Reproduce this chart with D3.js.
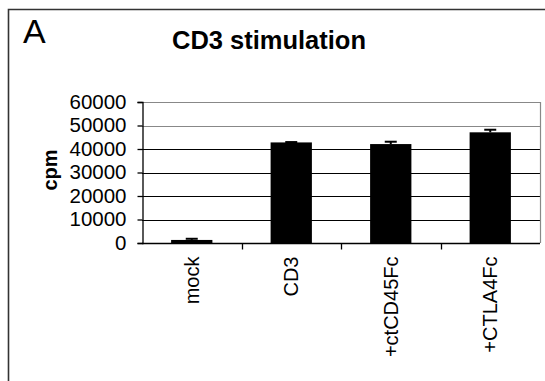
<!DOCTYPE html>
<html><head><meta charset="utf-8">
<script src="https://cdn.jsdelivr.net/npm/d3@7"></script>
<style>body{margin:0;background:#fff}svg{display:block;font-family:Arial,"Liberation Sans",sans-serif}</style>
</head><body><svg id="c" width="545" height="381"></svg>
<script>
const categories = ["mock","CD3","+ctCD45Fc","+CTLA4Fc"];
const values = [1300, 42800, 42100, 47100];
const errors = [500, 150, 1000, 1100];
const yTicks = [0,10000,20000,30000,40000,50000,60000];
const title = "CD3 stimulation";
const yLabel = "cpm";
const panel = "A";

(function(){
const svg = d3.select("#c");
const pL = 142, pR = 540, pT = 102, pB = 243;

svg.append("path").attr("d","M8.5,390V9.5H560").attr("fill","none").attr("stroke","#333").attr("stroke-width",1.6);

svg.append("text").attr("x",23).attr("y",43).attr("font-size",34).text(panel);
svg.append("text").attr("x",269).attr("y",49).attr("text-anchor","middle").attr("font-size",25).attr("font-weight","bold")
  .attr("textLength",194).attr("lengthAdjust","spacingAndGlyphs").text(title);

const x = d3.scaleBand().domain(categories).range([pL,pR]).paddingInner(0.585).paddingOuter(0.2925);
const xb = d3.scaleBand().domain(categories).range([pL,pR]);
const y = d3.scaleLinear().domain([0,60000]).range([pB,pT]);

svg.append("g").selectAll("line").data(yTicks.filter(d=>d>0)).join("line")
  .attr("x1",pL).attr("x2",pR).attr("y1",d=>Math.round(y(d))+0.5).attr("y2",d=>Math.round(y(d))+0.5)
  .attr("stroke",d=>d>=50000?"#888":"#000").attr("stroke-width",1.2);
svg.append("line").attr("x1",pR+0.5).attr("x2",pR+0.5).attr("y1",pT).attr("y2",pB).attr("stroke","#888").attr("stroke-width",1.2);

svg.append("g").selectAll("rect").data(values).join("rect")
  .attr("x",(d,i)=>x(categories[i])).attr("width",x.bandwidth())
  .attr("y",d=>y(d)).attr("height",d=>pB-y(d)).attr("fill","#000");

const eg = svg.append("g").attr("stroke","#000").attr("stroke-width",2);
values.forEach((v,i)=>{
  const cx = x(categories[i]) + x.bandwidth()/2;
  eg.append("line").attr("x1",cx).attr("x2",cx).attr("y1",y(v)).attr("y2",y(v+errors[i]));
  eg.append("line").attr("x1",cx-6).attr("x2",cx+6).attr("y1",y(v+errors[i])).attr("y2",y(v+errors[i]));
});

const ya = svg.append("g").attr("transform",`translate(${pL+0.5},0)`)
  .call(d3.axisLeft(y).tickValues(yTicks).tickSize(5).tickPadding(11).tickFormat(d3.format("d")));
ya.select(".domain").attr("stroke","#000").attr("stroke-width",1.3);
ya.selectAll(".tick line").attr("stroke","#000").attr("stroke-width",1.3);
ya.selectAll("text").attr("font-size",20).attr("font-family","Arial, 'Liberation Sans', sans-serif").attr("fill","#000")
  .attr("textLength",57).attr("lengthAdjust","spacingAndGlyphs")
  .attr("textLength",d=>String(d).length*11.4);

const xa = svg.append("g").attr("transform",`translate(0,${pB+0.5})`);
xa.append("line").attr("x1",pL).attr("x2",pR).attr("stroke","#000").attr("stroke-width",1.3);
xa.selectAll("line.t").data(categories.slice(1)).join("line").attr("class","t")
  .attr("x1",d=>Math.round(xb(d))+0.5).attr("x2",d=>Math.round(xb(d))+0.5).attr("y1",0).attr("y2",6)
  .attr("stroke","#000").attr("stroke-width",1.3);
xa.selectAll("text").data(categories).join("text")
  .attr("transform",d=>`translate(${xb(d)+xb.bandwidth()/2+7},13) rotate(-90)`)
  .attr("text-anchor","end").attr("font-size",20).text(d=>d);

svg.append("text").attr("transform","translate(57,170) rotate(-90)").attr("text-anchor","middle")
  .attr("font-size",20).attr("font-weight","bold").text(yLabel);
})();
</script></body></html>
